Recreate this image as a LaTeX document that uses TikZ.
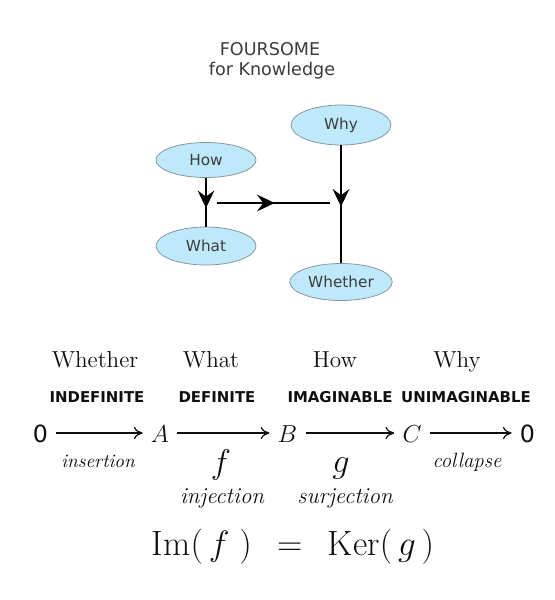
\documentclass[tikz,border=0pt]{standalone}
\usepackage{fix-cm}
\usepackage{amsmath}
\usepackage{fontspec}
\newfontfamily\dejavu{DejaVu Sans}
\usetikzlibrary{
    arrows.meta,
    decorations.markings,
    shapes.geometric
}
\definecolor{ink}{RGB}{15,15,15}
\definecolor{muted}{RGB}{60,60,60}
\definecolor{bubblefill}{RGB}{190,233,250}
\definecolor{bubbleedge}{RGB}{135,150,158}
\tikzset{
    bubble/.style={
        ellipse,
        draw=bubbleedge,
        line width=0.45pt,
        fill=bubblefill,
        inner sep=0pt,
        minimum width=2cm,
        minimum height=0.76cm,
        font=\dejavu\fontsize{8.7}{10}\selectfont,
        text=muted
    },
    heading/.style={
        anchor=base,
        font=\dejavu\fontsize{10}{12}\selectfont,
        text=muted
    },
    flowline/.style={
        draw=black,
        line width=1.4pt,
        postaction={decorate}
    },
    midtip/.style={
        decoration={
            markings,
            mark=at position #1 with {\arrow{Stealth[length=10pt, width=9.5pt, inset=3.5pt]}}
        }
    },
    stage/.style={
        anchor=base,
        font=\fontsize{13.2}{15}\selectfont,
        text=ink
    },
    quality/.style={
        anchor=base,
        font=\dejavu\bfseries\fontsize{8.5}{10}\selectfont,
        text=ink
    },
    seqnode/.style={
        anchor=base,
        inner sep=4.5pt,
        text height=12pt,
        text depth=1.8pt,
        font=\fontsize{14}{16}\selectfont,
        text=ink
    },
    zeronode/.style={
        seqnode,
        font=\dejavu\fontsize{13.5}{16}\selectfont
    },
    seqarrow/.style={
        -{Computer Modern Rightarrow[length=5pt, width=7pt]},
        line width=0.7pt,
        draw=ink
    },
    maplabel/.style={
        anchor=base,
        font=\itshape\fontsize{10.8}{13}\selectfont,
        text=ink
    },
    mapname/.style={
        anchor=base,
        font=\itshape\fontsize{13}{15}\selectfont,
        text=ink
    },
    mapsymbol/.style={
        anchor=base,
        font=\fontsize{19.5}{22}\selectfont,
        text=ink
    }
}

\begin{document}
\begin{tikzpicture}[x=0.02cm, y=-0.02cm]
\useasboundingbox (0,0) rectangle (555,600);

% Title
\node[heading] (titleA) at (270,55) {FOURSOME};
\node[heading] (titleB) at (272,75) {for Knowledge};

% The four questions
\node[bubble, minimum height=0.8cm] (why) at (341,125) {Why};
\node[bubble, minimum height=0.7cm] (how) at (206,160) {How};
\node[bubble] (what) at (206,246) {What};
\node[bubble, minimum width=2.05cm, minimum height=0.74cm] (whether) at (341,282) {Whether};

\coordinate (joinL) at (217,203);
\coordinate (joinR) at (330,203);

\draw[flowline, midtip=0.62] (how) -- (what);
\draw[flowline, midtip=0.51] (joinL) -- (joinR);
\draw[flowline, midtip=0.52] (why) -- (whether);

% Stages above the sequence
\node[stage] (stWhether) at (95,367) {Whether};
\node[stage] (stWhat) at (211,367) {What};
\node[stage] (stHow) at (335,367) {How};
\node[stage] (stWhy) at (457,367) {Why};

\node[quality] (qIndef) at (97,402) {INDEFINITE};
\node[quality] (qDef) at (217,402) {DEFINITE};
\node[quality] (qImag) at (340,402) {IMAGINABLE};
\node[quality] (qUnimag) at (466,402) {UNIMAGINABLE};

% Exact sequence
\node[zeronode] (zeroIn) at (40.5,442) {0};
\node[seqnode] (objA) at (160,442) {$A$};
\node[seqnode] (objB) at (287.5,442) {$B$};
\node[seqnode] (objC) at (412,442) {$C$};
\node[zeronode] (zeroOut) at (527.5,442) {0};

\draw[seqarrow] (zeroIn) -- (objA);
\draw[seqarrow] (objA) -- (objB);
\draw[seqarrow] (objB) -- (objC);
\draw[seqarrow] (objC) -- (zeroOut);

% Map labels
\node[maplabel] (lblInsert) at (98,467) {insertion};
\node[mapsymbol] (lblF) at (221,473) {$f$};
\node[mapname] (lblInj) at (222,503) {injection};
\node[mapsymbol] (lblG) at (341,472) {$g$};
\node[mapname] (lblSurj) at (345,503) {surjection};
\node[maplabel, font=\itshape\fontsize{11.8}{14}\selectfont] (lblCollapse) at (467,467) {collapse};

% Exactness
\node[anchor=base, font=\fontsize{20}{24}\selectfont, text=ink] (exact) at (293,555)
    {$\mathrm{Im}(\,f\;) \;\,=\;\, \mathrm{Ker}(\,g\,)$};
\end{tikzpicture}
\end{document}
